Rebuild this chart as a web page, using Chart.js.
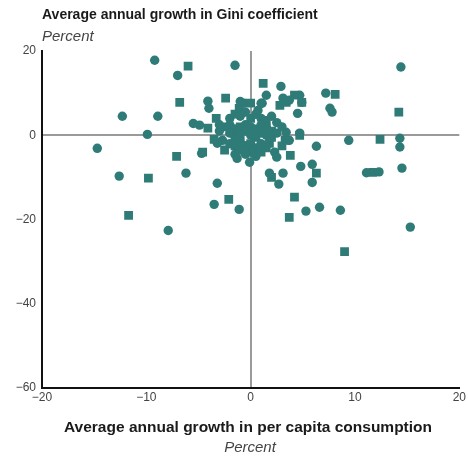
<!DOCTYPE html>
<html>
<head>
<meta charset="utf-8">
<script src="https://cdn.jsdelivr.net/npm/chart.js@4.4.0/dist/chart.umd.min.js"></script>
<style>
  html, body { margin: 0; padding: 0; background: #fff; }
  #wrap { width: 468px; height: 457px; position: relative; }
</style>
</head>
<body>
<div id="wrap"><canvas id="chart"></canvas></div>
<script>
'use strict';
// growth in per capita consumption (x) vs growth in Gini (y), percent
const xValues = [
  -9.2, -6.0, -7.0, -1.5, -6.8, -4.1, -4.0, -2.4, -12.3, -8.9,
  -3.3, -5.5, -4.9, -4.1, -9.9, -14.7, -7.1, -4.7, -12.6, -9.8,
  -6.2, -3.2, -2.1, -3.5, -1.1, -11.7, -7.9, 14.4, 1.2, 2.9,
  7.2, 8.1, 7.6, 7.8, 14.2, 4.7, 4.9, 4.2, 4.5, 3.1,
  2.8, 1.5, 1.1, 4.7, 6.3, 9.4, 12.4, 14.3, 14.3, 3.8,
  4.8, 5.9, 6.3, 5.9, 3.1, 2.0, 2.7, 11.1, 11.7, 12.3,
  14.5, 4.2, 6.6, 8.6, 3.7, 5.3, 15.3, 9.0, -1.3, -0.1,
  -1.1, -0.6, 0.7, 3.4, -2.7, -3.2, 1.8, 2.3, 2.5, 3.3,
  3.7, 4.7, -4.6, 1.8, -1.0, 0.0, 1.0, 3.7, 4.9, 3.4,
  -2.0, -1.5, -1.0, -0.5, 0.0, 0.5, 1.0, 1.5, 2.0, 2.5,
  -2.5, -2.0, -1.5, -1.0, -0.5, 0.0, 0.5, 1.0, 1.5, 2.0,
  -2.0, -1.5, -1.0, -0.5, 0.0, 0.5, 1.0, 1.5, 2.0, 2.5,
  -2.0, -1.5, -1.0, -0.5, 0.0, 0.5, 1.0, 1.5, -1.0, 0.0,
  -2.5, -0.5, 0.5, 1.0, -1.5, 3.0, 3.0, -3.0, -3.0, -3.5
];
const yValues = [
  17.8, 16.4, 14.2, 16.6, 7.8, 8.1, 6.4, 8.8, 4.5, 4.5,
  4.0, 2.8, 2.4, 1.7, 0.2, -3.1, -5.0, -4.3, -9.7, -10.2,
  -9.0, -11.4, -15.2, -16.4, -17.6, -19.0, -22.6, 16.2, 12.3, 11.6,
  10.0, 9.7, 6.4, 5.5, 5.5, 9.5, 7.8, 9.5, 5.2, 8.8,
  7.1, 9.5, 7.6, 0.0, -2.6, -1.2, -1.0, -0.7, -2.8, -4.8,
  -7.4, -6.9, -9.0, -11.2, -9.0, -10.0, -11.6, -8.9, -8.8, -8.7,
  -7.8, -14.7, -17.1, -17.8, -19.5, -18.0, -21.8, -27.6, -5.5, -6.4,
  6.4, 7.6, 5.9, 7.8, -1.2, -1.9, -1.9, -4.0, -5.2, -1.2,
  -1.2, 0.5, -4.0, -9.0, 8.0, 7.6, 7.6, 8.3, 7.8, 0.7,
  4.0, 5.0, 4.5, 5.5, 4.0, 5.0, 4.0, 3.5, 4.5, 3.0,
  2.0, 2.5, 1.5, 2.0, 2.5, 2.0, 1.5, 2.5, 2.0, 1.0,
  0.5, -0.5, 0.0, 1.0, 0.0, -0.5, 0.5, 0.0, -0.5, 0.5,
  -2.0, -2.5, -1.5, -2.5, -2.0, -3.0, -2.0, -3.0, -3.5, -4.0,
  -3.5, -4.5, -5.0, -4.0, -4.5, 2.0, -2.5, 1.0, 2.5, -1.0
];
const xTicks = [-20, -10, 0, 10, 20];
const yTicks = [-60, -40, -20, 0, 20];

const titleText = 'Average annual growth in Gini coefficient';
const xTitleText = 'Average annual growth in per capita consumption';
const unitText = 'Percent';

const teal = '#2e7b77';
const points = xValues.map((x, i) => ({ x: x, y: yValues[i] }));

const fmt = v => (v < 0 ? '\u2212' + Math.abs(v) : String(v));

// titles drawn by hand so the bold / italic lines sit like the original
const labelsPlugin = {
  id: 'labels',
  afterDraw(chart) {
    const ctx = chart.ctx;
    ctx.save();
    ctx.textBaseline = 'middle';
    ctx.textAlign = 'left';
    ctx.fillStyle = '#1a1a1a';
    ctx.font = 'bold 14px "Liberation Sans", Arial, sans-serif';
    ctx.fillText(titleText, 42, 15);
    ctx.fillStyle = '#444';
    ctx.font = 'italic 15px "Liberation Sans", Arial, sans-serif';
    ctx.fillText(unitText, 42, 37);

    ctx.textAlign = 'center';
    ctx.fillStyle = '#1a1a1a';
    ctx.font = 'bold 15.5px "Liberation Sans", Arial, sans-serif';
    ctx.fillText(xTitleText, 248, 428);
    ctx.fillStyle = '#444';
    ctx.font = 'italic 15px "Liberation Sans", Arial, sans-serif';
    ctx.fillText(unitText, 250, 448);
    ctx.restore();
  }
};

new Chart(document.getElementById('chart'), {
  type: 'scatter',
  data: {
    datasets: [{
      data: points,
      backgroundColor: teal,
      borderColor: teal,
      borderWidth: 0,
      pointStyle: ctx => (ctx.dataIndex % 3 === 1 ? 'rect' : 'circle'),
      pointRadius: ctx => (ctx.dataIndex % 3 === 1 ? 6.2 : 4.7),
      pointHoverRadius: 5
    }]
  },
  options: {
    responsive: true,
    maintainAspectRatio: false,
    animation: false,
    layout: { padding: { top: 51, right: 8, left: 0, bottom: 0 } },
    plugins: {
      legend: { display: false },
      tooltip: { enabled: false }
    },
    scales: {
      x: {
        type: 'linear',
        min: -20,
        max: 20,
        afterBuildTicks: s => { s.ticks = xTicks.map(v => ({ value: v })); },
        afterFit: s => { s.height = 69; },
        border: { display: true, color: '#111', width: 2 },
        grid: {
          drawTicks: false,
          color: c => (c.tick && c.tick.value === 0 ? '#9a9a9a' : 'rgba(0,0,0,0)'),
          lineWidth: 2
        },
        ticks: {
          padding: 2,
          color: '#444',
          font: { family: '"Liberation Sans", Arial, sans-serif', size: 12 },
          callback: v => fmt(v)
        }
      },
      y: {
        type: 'linear',
        min: -60,
        max: 20,
        afterBuildTicks: s => { s.ticks = yTicks.map(v => ({ value: v })); },
        afterFit: s => { s.width = 42; },
        border: { display: true, color: '#111', width: 2 },
        grid: {
          drawTicks: false,
          color: c => (c.tick && c.tick.value === 0 ? '#9a9a9a' : 'rgba(0,0,0,0)'),
          lineWidth: 2
        },
        ticks: {
          padding: 6,
          color: '#444',
          font: { family: '"Liberation Sans", Arial, sans-serif', size: 12 },
          callback: v => fmt(v)
        }
      }
    }
  },
  plugins: [labelsPlugin]
});
</script>
</body>
</html>
